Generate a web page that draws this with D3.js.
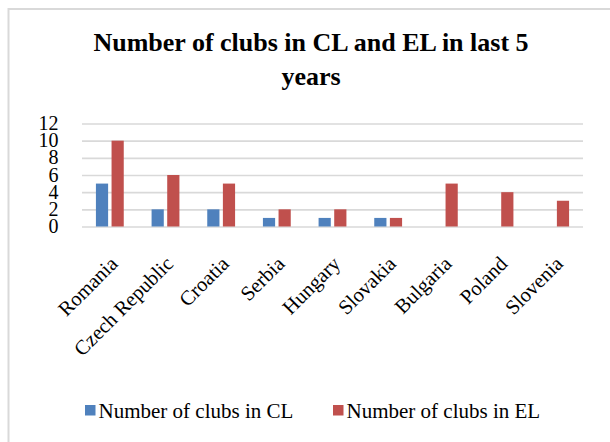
<!DOCTYPE html>
<html>
<head>
<meta charset="utf-8">
<script src="https://cdn.jsdelivr.net/npm/d3@7"></script>
<style>
  html, body { margin: 0; padding: 0; background: #ffffff; }
  svg { display: block; }
  text { font-family: "Liberation Serif", "Times New Roman", serif; fill: #000; }
</style>
</head>
<body>
<svg id="chart" width="610" height="442"></svg>
<script>
// Clubs per country qualifying for the Champions League / Europa League
const countries = ["Romania", "Czech Republic", "Croatia", "Serbia", "Hungary", "Slovakia", "Bulgaria", "Poland", "Slovenia"];
const clubsCL = [5, 2, 2, 1, 1, 1, 0, 0, 0];
const clubsEL = [10, 6, 5, 2, 2, 1, 5, 4, 3];
const seriesNames = ["Number of clubs in CL", "Number of clubs in EL"];
const seriesColors = ["#4f81bd", "#c0504d"];
const yTicks = [0, 2, 4, 6, 8, 10, 12];
const titleLines = ["Number of clubs in CL and EL in last 5", "years"];

const series = [clubsCL, clubsEL];
const serif = "'Liberation Serif', 'Times New Roman', serif";

const svg = d3.select("#chart");

// outer chart frame
svg.append("rect")
  .attr("x", 8.5).attr("y", 9)
  .attr("width", 700).attr("height", 600)
  .attr("fill", "#fff")
  .attr("stroke", "#d9d9d9").attr("stroke-width", 2);

// title
const title = svg.append("text")
  .attr("text-anchor", "middle")
  .attr("font-family", serif)
  .attr("font-size", 26)
  .attr("font-weight", "bold");
titleLines.forEach((line, i) => {
  title.append("tspan").attr("x", 311).attr("y", 51 + i * 34).text(line);
});

const plot = { left: 82, right: 583, top: 123.5, bottom: 226.5 };

const x = d3.scaleBand()
  .domain(countries)
  .range([plot.left, plot.right])
  .paddingInner(0.5)
  .paddingOuter(0.25);

const xSeries = d3.scaleBand()
  .domain(d3.range(series.length))
  .range([0, x.bandwidth()])
  .paddingInner(0.22);

const y = d3.scaleLinear()
  .domain([0, 12])
  .range([plot.bottom, plot.top]);

// horizontal gridlines and value labels
const yAxis = d3.axisLeft(y)
  .tickValues(yTicks)
  .tickSize(-(plot.right - plot.left))
  .tickPadding(23.5);

const gy = svg.append("g")
  .attr("transform", `translate(${plot.left},0)`)
  .call(yAxis);
gy.select(".domain").remove();
gy.selectAll(".tick line")
  .attr("stroke", "#d9d9d9")
  .attr("stroke-width", 1.6);
gy.selectAll(".tick text")
  .attr("font-size", 20)
  .attr("font-family", serif)
  .attr("fill", "#000")
  .attr("dy", "0.3em");

// bars
series.forEach((vals, s) => {
  svg.append("g")
    .selectAll("rect")
    .data(vals.map((v, i) => ({ c: countries[i], v })))
    .join("rect")
    .attr("x", d => x(d.c) + xSeries(s))
    .attr("y", d => y(d.v))
    .attr("width", xSeries.bandwidth())
    .attr("height", d => y(0) - y(d.v))
    .attr("fill", seriesColors[s]);
});

// category labels, rotated
const xAxis = d3.axisBottom(x).tickSize(0).tickPadding(0);
const gx = svg.append("g")
  .attr("transform", `translate(0,${plot.bottom})`)
  .call(xAxis);
gx.select(".domain").remove();
gx.selectAll(".tick text")
  .attr("font-size", 20.5)
  .attr("font-family", serif)
  .attr("fill", "#000")
  .attr("text-anchor", "end")
  .attr("dy", 0)
  .attr("transform", "translate(9,38.5) rotate(-45)");

// legend
const legendX = [85, 333];
const legend = svg.append("g");
seriesNames.forEach((name, i) => {
  legend.append("rect")
    .attr("x", legendX[i]).attr("y", 405)
    .attr("width", 10.5).attr("height", 10.5)
    .attr("fill", seriesColors[i]);
  legend.append("text")
    .attr("x", legendX[i] + 13.5).attr("y", 418)
    .attr("font-family", serif)
    .attr("font-size", 21)
    .text(name);
});
</script>
</body>
</html>
